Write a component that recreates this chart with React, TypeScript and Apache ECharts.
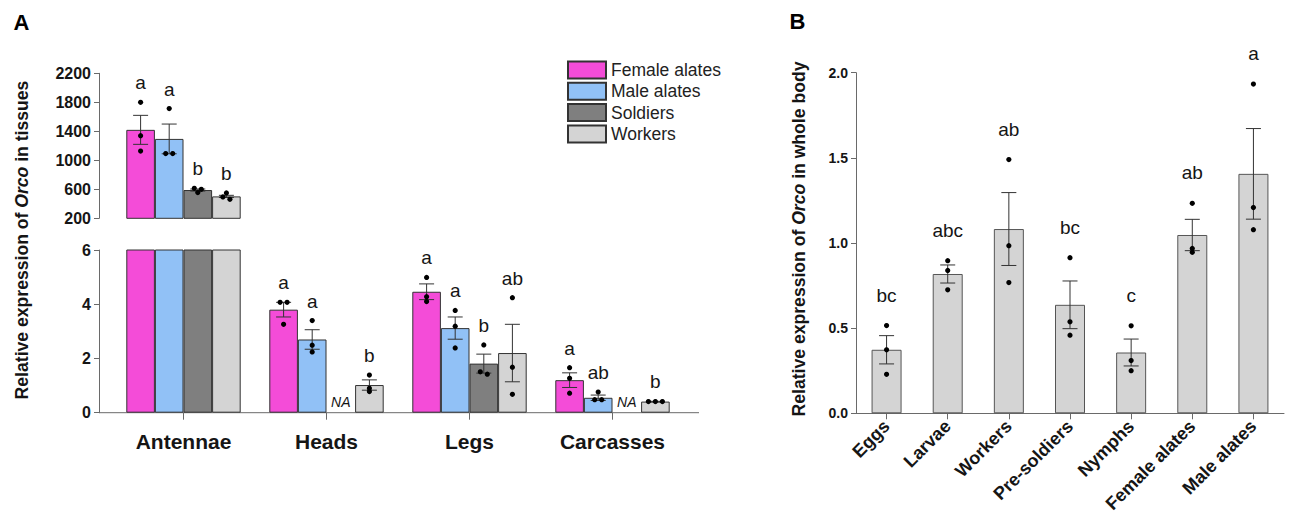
import React, { useEffect, useRef } from 'react';
import * as echarts from 'echarts';

// ---------- Panel A data ----------
const tissues = ['Antennae', 'Heads', 'Legs', 'Carcasses'];
const castes = ['Female alates', 'Male alates', 'Soldiers', 'Workers'];

const femaleMean = [1420, 3.8, 4.46, 1.2];
const femaleSem = [200, 0.27, 0.29, 0.27];
const femaleDots = [[1800, 1340, 1128], [4.07, 4.07, 3.26], [4.99, 4.28, 4.1], [1.66, 1.27, 0.72]];
const femaleLetters = ['a', 'a', 'a', 'a'];

const maleMean = [1295, 2.7, 3.12, 0.55];
const maleSem = [205, 0.36, 0.41, 0.1];
const maleDots = [[1713, 1093, 1093], [3.4, 2.49, 2.24], [3.77, 3.19, 2.39], [0.76, 0.48, 0.48]];
const maleLetters = ['a', 'a', 'a', 'ab'];

const soldierMean = [590, null, 1.81, null];
const soldierSem = [14, null, 0.35, null];
const soldierDots = [[614, 555, 600], null, [2.5, 1.51, 1.42], null];
const soldierLetters = ['b', '', 'b', ''];

const workerMean = [502, 1.02, 2.2, 0.41];
const workerSem = [15, 0.19, 1.06, 0.01];
const workerDots = [[549, 494, 462], [1.39, 0.78, 0.9], [4.24, 1.68, 0.68], [0.41, 0.41, 0.41]];
const workerLetters = ['b', 'b', 'ab', 'b'];

const upperTicks = [200, 2200, 400]; // min, max, interval
const lowerTicks = [0, 6, 2];

// ---------- Panel B data ----------
const stages = ['Eggs', 'Larvae', 'Workers', 'Pre-soldiers', 'Nymphs', 'Female alates', 'Male alates'];
const bodyMean = [0.373, 0.818, 1.082, 0.637, 0.357, 1.047, 1.406];
const bodySem = [0.083, 0.053, 0.214, 0.14, 0.079, 0.092, 0.266];
const bodyDots = [
  [0.515, 0.373, 0.229],
  [0.896, 0.839, 0.725],
  [1.49, 0.984, 0.768],
  [0.914, 0.537, 0.459],
  [0.514, 0.31, 0.25],
  [1.233, 0.968, 0.945],
  [1.933, 1.208, 1.078],
];
const bodyLetters = ['bc', 'abc', 'ab', 'bc', 'c', 'ab', 'a'];
const bodyTicks = [0, 2, 0.5];

// ---------- styles ----------
const FONT = '"Liberation Sans", Arial, Helvetica, sans-serif';
const TXT = '#151515';
const AXIS = '#6a6a6a';
const casteColors = ['#f44cd8', '#91c1f6', '#7f7f7f', '#d4d4d4'];
const LETTER_SIZE = 19;
const TITLE_SIZE = 17.6;

const groupMeans = [femaleMean, maleMean, soldierMean, workerMean];
const groupSems = [femaleSem, maleSem, soldierSem, workerSem];
const groupDots = [femaleDots, maleDots, soldierDots, workerDots];
const groupLetters = [femaleLetters, maleLetters, soldierLetters, workerLetters];

function dotElements(cx: number, ys: number[]) {
  return ys.map((y, j) => {
    const cluster = ys.map((_, k) => k).filter((k) => Math.abs(ys[k] - y) < 3);
    const pos = cluster.indexOf(j);
    const x = cx + (pos - (cluster.length - 1) / 2) * 7;
    return { type: 'circle', shape: { cx: x, cy: y, r: 2.6 }, style: { fill: '#000' } };
  });
}

function errorElements(cx: number, yTop: number, yBot: number, cap: number) {
  const ls = { stroke: '#333', lineWidth: 1 };
  return [
    { type: 'line', shape: { x1: cx, y1: yTop, x2: cx, y2: yBot }, style: ls },
    { type: 'line', shape: { x1: cx - cap, y1: yTop, x2: cx + cap, y2: yTop }, style: ls },
    { type: 'line', shape: { x1: cx - cap, y1: yBot, x2: cx + cap, y2: yBot }, style: ls },
  ];
}

function makeRenderA(g: number, gridIdx: number) {
  return (params: any, api: any) => {
    const i = params.dataIndex;
    const mean = groupMeans[g][i];
    const band = api.size([1, 0])[0];
    const bw = (band * 0.8) / 4;
    const cx = api.coord([i, 0])[0] + (g - 1.5) * bw;
    if (mean == null) {
      if (gridIdx !== 1) return null;
      const y0 = api.coord([i, 0])[1];
      return {
        type: 'text',
        style: {
          text: 'NA', x: cx, y: y0 - 11, align: 'center', verticalAlign: 'middle',
          fontSize: 14, fontStyle: 'italic', fontFamily: FONT, fill: TXT,
        },
      };
    }
    const inUpper = mean > lowerTicks[1];
    if ((gridIdx === 0) !== inUpper) return null;
    const sem = groupSems[g][i] as number;
    const dots = groupDots[g][i] as number[];
    const yTop = api.coord([i, mean + sem])[1];
    const yBot = api.coord([i, mean - sem])[1];
    const ys = dots.map((v) => api.coord([i, v])[1]);
    const top = Math.min(yTop, ...ys);
    const children: any[] = [
      ...errorElements(cx, yTop, yBot, 7.5),
      ...dotElements(cx, ys),
      {
        type: 'text',
        style: {
          text: groupLetters[g][i], x: cx, y: top - 19.5, align: 'center', verticalAlign: 'middle',
          fontSize: LETTER_SIZE, fontFamily: FONT, fill: TXT,
        },
      },
    ];
    return { type: 'group', children };
  };
}

function renderB(params: any, api: any) {
  const i = params.dataIndex;
  const mean = bodyMean[i];
  const sem = bodySem[i];
  const cx = api.coord([i, 0])[0];
  const yTop = api.coord([i, mean + sem])[1];
  const yBot = api.coord([i, mean - sem])[1];
  const ys = bodyDots[i].map((v) => api.coord([i, v])[1]);
  const top = Math.min(yTop, ...ys);
  return {
    type: 'group',
    children: [
      ...errorElements(cx, yTop, yBot, 7.5),
      ...dotElements(cx, ys),
      {
        type: 'text',
        style: {
          text: bodyLetters[i], x: cx, y: top - 30.5, align: 'center', verticalAlign: 'middle',
          fontSize: LETTER_SIZE, fontFamily: FONT, fill: TXT,
        },
      },
    ],
  };
}

export default function App() {
  const ref = useRef<HTMLDivElement>(null);

  useEffect(() => {
    if (!ref.current) return;
    const chart = echarts.init(ref.current, undefined, { renderer: 'svg' });

    const axisLineStyle = { color: AXIS, width: 1 };
    const yLabelA = {
      fontSize: 16, fontWeight: 'bold', color: TXT, fontFamily: FONT, margin: 8,
      formatter: (v: number) => String(v),
    };

    const series: any[] = [];
    [0, 1].forEach((gridIdx) => {
      castes.forEach((name, g) => {
        series.push({
          type: 'bar',
          name,
          xAxisIndex: gridIdx,
          yAxisIndex: gridIdx,
          data: groupMeans[g].map((v) => (v == null ? '-' : v)),
          barGap: '0%',
          barCategoryGap: '20%',
          clip: true,
          itemStyle: { color: casteColors[g], borderColor: '#333', borderWidth: 1 },
          emphasis: { disabled: true },
        });
      });
    });
    [0, 1].forEach((gridIdx) => {
      castes.forEach((_, g) => {
        series.push({
          type: 'custom',
          xAxisIndex: gridIdx,
          yAxisIndex: gridIdx,
          data: tissues.map((_, i) => [i, groupMeans[g][i] ?? 0]),
          encode: { x: 0, y: 1 },
          renderItem: makeRenderA(g, gridIdx),
          z: 5,
          silent: true,
        });
      });
    });
    series.push({
      type: 'bar',
      name: 'Whole body',
      xAxisIndex: 2,
      yAxisIndex: 2,
      data: bodyMean,
      barWidth: 30,
      itemStyle: { color: '#d4d4d4', borderColor: '#555', borderWidth: 1 },
      emphasis: { disabled: true },
    });
    series.push({
      type: 'custom',
      xAxisIndex: 2,
      yAxisIndex: 2,
      data: stages.map((_, i) => [i, bodyMean[i]]),
      encode: { x: 0, y: 1 },
      renderItem: renderB,
      z: 5,
      silent: true,
    });

    chart.setOption({
      animation: false,
      textStyle: { fontFamily: FONT },
      legend: {
        data: castes,
        orient: 'vertical',
        left: 567,
        top: 60.5,
        padding: 0,
        itemWidth: 38,
        itemHeight: 17,
        itemGap: 2.3,
        icon: 'rect',
        selectedMode: false,
        textStyle: { fontSize: 17.5, lineHeight: 17, color: '#222', fontFamily: FONT },
      },
      grid: [
        { left: 112, top: 73.3, width: 572, height: 145 },
        { left: 112, top: 250, width: 572, height: 162.7 },
        { left: 856, top: 72.7, width: 428, height: 340.6 },
      ],
      xAxis: [
        { gridIndex: 0, type: 'category', data: tissues, show: false },
        {
          gridIndex: 1, type: 'category', data: tissues,
          axisLine: { show: false },
          axisTick: { show: true, alignWithLabel: true, length: 7, lineStyle: axisLineStyle },
          axisLabel: { fontSize: 21, fontWeight: 'bold', color: TXT, fontFamily: FONT, margin: 18 },
        },
        {
          gridIndex: 2, type: 'category', data: stages,
          axisLine: { show: true, lineStyle: axisLineStyle },
          axisTick: { show: true, alignWithLabel: true, length: 6, lineStyle: axisLineStyle },
          axisLabel: { fontSize: 18, fontWeight: 'bold', color: TXT, fontFamily: FONT, rotate: 45, margin: 10, interval: 0 },
        },
      ],
      yAxis: [
        {
          gridIndex: 0, type: 'value', min: upperTicks[0], max: upperTicks[1], interval: upperTicks[2], offset: 13,
          axisLine: { show: true, lineStyle: axisLineStyle },
          axisTick: { show: true, length: 5, lineStyle: axisLineStyle },
          axisLabel: yLabelA,
          splitLine: { show: false },
        },
        {
          gridIndex: 1, type: 'value', min: lowerTicks[0], max: lowerTicks[1], interval: lowerTicks[2], offset: 13,
          axisLine: { show: true, lineStyle: axisLineStyle },
          axisTick: { show: true, length: 5, lineStyle: axisLineStyle },
          axisLabel: yLabelA,
          splitLine: { show: false },
        },
        {
          gridIndex: 2, type: 'value', min: bodyTicks[0], max: bodyTicks[1], interval: bodyTicks[2],
          axisLine: { show: true, lineStyle: axisLineStyle },
          axisTick: { show: true, length: 5, lineStyle: axisLineStyle },
          axisLabel: { fontSize: 14, fontWeight: 'bold', color: TXT, fontFamily: FONT, margin: 8, formatter: (v: number) => v.toFixed(1) },
          splitLine: { show: false },
        },
      ],
      graphic: [
        {
          type: 'text', x: 21.5, y: 22,
          style: { text: 'A', fontSize: 22, fontWeight: 'bold', fontFamily: FONT, fill: '#000', align: 'center', verticalAlign: 'middle' },
        },
        {
          type: 'text', x: 797.5, y: 21,
          style: { text: 'B', fontSize: 22, fontWeight: 'bold', fontFamily: FONT, fill: '#000', align: 'center', verticalAlign: 'middle' },
        },
        {
          type: 'text', x: 21.7, y: 240, rotation: Math.PI / 2,
          style: {
            text: 'Relative expression of {i|Orco} in tissues',
            fontSize: TITLE_SIZE, fontWeight: 'bold', fontFamily: FONT, fill: TXT, align: 'center', verticalAlign: 'middle',
            rich: { i: { fontSize: TITLE_SIZE, fontWeight: 'bold', fontStyle: 'italic', fontFamily: FONT, fill: TXT } },
          },
        },
        {
          type: 'text', x: 799.3, y: 239, rotation: Math.PI / 2,
          style: {
            text: 'Relative expression of {i|Orco} in whole body',
            fontSize: TITLE_SIZE, fontWeight: 'bold', fontFamily: FONT, fill: TXT, align: 'center', verticalAlign: 'middle',
            rich: { i: { fontSize: TITLE_SIZE, fontWeight: 'bold', fontStyle: 'italic', fontFamily: FONT, fill: TXT } },
          },
        },
        {
          type: 'line',
          shape: { x1: 99, y1: 412.7, x2: 699, y2: 412.7 },
          style: { stroke: AXIS, lineWidth: 1 },
        },
      ],
      series,
    });

    return () => chart.dispose();
  }, []);

  return (
    <div
      ref={ref}
      style={{ position: 'absolute', left: 0, top: 0, width: 1290, height: 519, background: '#fff' }}
    />
  );
}
